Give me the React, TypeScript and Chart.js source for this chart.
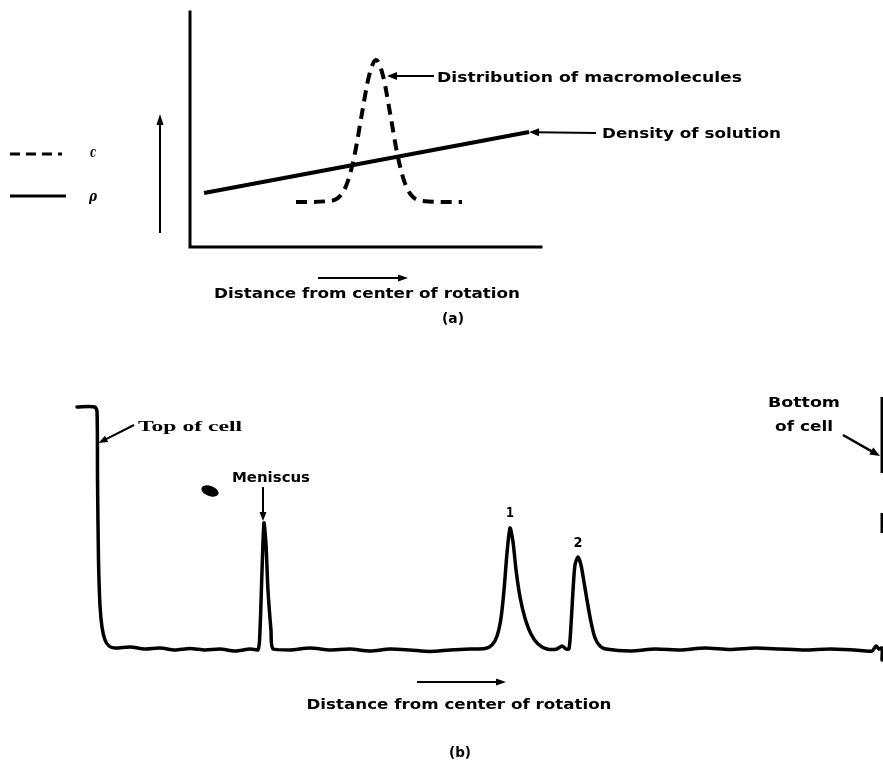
import React, { useEffect, useRef } from "react";
import { Chart, registerables } from "chart.js";

Chart.register(...registerables);

// ---------- Panel (a) data ----------
// density of solution (rho), straight line
const rhoX = [4.0, 96.6];
const rhoY = [23.0, 48.9];
// distribution of macromolecules (c), dashed band
const cX = [30.2, 39.9, 43.0, 45.0, 47.0, 49.0, 51.0, 53.0, 55.0, 57.0, 59.0, 61.0, 63.0, 66.1, 77.5];
const cY = [19.1, 19.6, 22.1, 28.1, 40.0, 57.0, 72.8, 79.6, 72.8, 57.0, 40.0, 28.1, 22.1, 19.6, 19.1];

// ---------- Panel (b) data ----------
const traceX = [0.86, 3.08, 3.33, 3.39, 3.51, 3.69, 3.94, 4.31, 4.80, 5.54, 7.39, 9.24, 11.08, 12.93, 14.78, 16.63, 18.47, 20.32, 22.17, 23.15, 23.40, 23.65, 23.89, 24.14, 24.38, 24.75, 25.0, 27.09, 29.56, 32.02, 34.48, 36.95, 39.41, 41.87, 44.33, 46.80, 49.26, 51.11, 51.97, 52.59, 53.08, 53.45, 53.82, 54.19, 54.56, 54.93, 55.42, 56.03, 56.77, 57.64, 58.74, 59.98, 60.59, 61.08, 61.45, 61.70, 61.95, 62.19, 62.56, 62.93, 63.30, 63.67, 64.16, 64.66, 65.27, 66.01, 68.97, 72.04, 75.12, 78.20, 81.28, 84.36, 87.44, 90.52, 93.60, 96.67, 98.77, 99.26, 99.63, 100, 100];
const traceY = [97.2, 97.2, 95.2, 68, 36, 18, 9.2, 4, 1.6, 0.8, 1.2, 0.4, 0.8, 0, 0.6, 0, 0.4, -0.4, 0.4, 0, 8, 32, 50.8, 42, 24, 8, 0.4, 0, 0.8, 0, 0.4, -0.4, 0.4, 0, -0.6, 0, 0.4, 0.6, 2, 5.6, 12.8, 24, 38.8, 48.8, 43.2, 32, 21.2, 12.8, 6.4, 2.4, 0.4, 0.4, 1.6, 0.4, 0.4, 10, 24, 34, 37.2, 34, 27.2, 20, 11.2, 4.8, 1.6, 0.4, -0.4, 0.4, 0, 0.8, 0.2, 0.8, 0.4, 0, 0.4, 0, -0.4, 1.6, 0.4, 0.8, -4];
// bottom-of-cell wall (broken vertical trace at the right edge)
const wallX = [100, 100, 100, 100, 100];
const wallY: (number | null)[] = [101.2, 70.8, null, 54.8, 46.8];

// index of notable points in the trace
const MENISCUS_IDX = 22;
const PEAK1_IDX = 43;
const PEAK2_IDX = 58;
const TOPCELL_IDX = 3;

const LABEL_FONT = 'bold 14px "DejaVu Sans"';
const SERIF_FONT = 'bold 15px "Liberation Serif"';

function pts(xs: number[], ys: (number | null)[]) {
  return xs.map((x, i) => ({ x, y: ys[i] }));
}

function fitText(
  ctx: CanvasRenderingContext2D,
  s: string,
  x: number,
  y: number,
  w: number,
  font: string,
  align: "left" | "center" | "right" = "left"
) {
  ctx.save();
  ctx.font = font;
  ctx.textBaseline = "middle";
  ctx.textAlign = "left";
  ctx.fillStyle = "#000";
  const m = ctx.measureText(s).width;
  const k = w / m;
  const left = align === "left" ? x : align === "center" ? x - w / 2 : x - w;
  ctx.translate(left, y);
  ctx.scale(k, 1);
  ctx.fillText(s, 0, 0);
  ctx.restore();
}

function arrow(
  ctx: CanvasRenderingContext2D,
  x1: number,
  y1: number,
  x2: number,
  y2: number,
  lw = 2,
  head = 9,
  hw = 3.5
) {
  const a = Math.atan2(y2 - y1, x2 - x1);
  const c = Math.cos(a);
  const s = Math.sin(a);
  ctx.save();
  ctx.strokeStyle = "#000";
  ctx.fillStyle = "#000";
  ctx.lineWidth = lw;
  ctx.beginPath();
  ctx.moveTo(x1, y1);
  ctx.lineTo(x2 - c * head * 0.7, y2 - s * head * 0.7);
  ctx.stroke();
  ctx.beginPath();
  ctx.moveTo(x2, y2);
  ctx.lineTo(x2 - c * head - s * hw, y2 - s * head + c * hw);
  ctx.lineTo(x2 - c * head + s * hw, y2 - s * head - c * hw);
  ctx.closePath();
  ctx.fill();
  ctx.restore();
}

function line(ctx: CanvasRenderingContext2D, x1: number, y1: number, x2: number, y2: number, lw: number, dash: number[] = []) {
  ctx.save();
  ctx.strokeStyle = "#000";
  ctx.lineWidth = lw;
  ctx.setLineDash(dash);
  ctx.beginPath();
  ctx.moveTo(x1, y1);
  ctx.lineTo(x2, y2);
  ctx.stroke();
  ctx.restore();
}

const panelAPlugin = {
  id: "panelA",
  afterDraw(chart: any) {
    const ctx: CanvasRenderingContext2D = chart.ctx;
    const { left, right, top, bottom } = chart.chartArea;
    const xs = chart.scales.x;
    const ys = chart.scales.y;
    // L-shaped axes
    ctx.save();
    ctx.strokeStyle = "#000";
    ctx.lineWidth = 3;
    ctx.lineCap = "square";
    ctx.beginPath();
    ctx.moveTo(left, top);
    ctx.lineTo(left, bottom);
    ctx.lineTo(right, bottom);
    ctx.stroke();
    ctx.restore();

    // legend
    line(ctx, 10, 154, 62, 154, 3, [10, 6]);
    fitText(ctx, "c", 90, 153, 6, 'italic bold 14px "DejaVu Serif"');
    line(ctx, 10, 196, 66, 196, 3);
    fitText(ctx, "ρ", 89, 197, 8, 'italic bold 14px "DejaVu Serif"');

    // vertical direction arrow
    arrow(ctx, 160, 233, 160, 114, 2, 11, 3.5);

    // annotation: distribution
    const px = xs.getPixelForValue(cX[7]);
    const py = ys.getPixelForValue(cY[7]);
    arrow(ctx, 434, py + 16, px + 11, py + 16, 2, 10, 4);
    fitText(ctx, "Distribution of macromolecules", 437, py + 18, 305, LABEL_FONT);

    // annotation: density
    const dx = xs.getPixelForValue(rhoX[1]);
    const dy = ys.getPixelForValue(rhoY[1]);
    arrow(ctx, 596, dy + 1, dx, dy, 2, 10, 4);
    fitText(ctx, "Density of solution", 602, dy + 2, 179, LABEL_FONT);

    // x direction arrow and label
    arrow(ctx, 318, 278, 408, 278, 2, 10, 3.5);
    fitText(ctx, "Distance from center of rotation", 367, 294, 306, LABEL_FONT, "center");
    fitText(ctx, "(a)", 453, 319, 22, LABEL_FONT, "center");
  },
};

const panelBPlugin = {
  id: "panelB",
  afterDraw(chart: any) {
    const ctx: CanvasRenderingContext2D = chart.ctx;
    const xs = chart.scales.x;
    const ys = chart.scales.y;
    const X = (i: number) => xs.getPixelForValue(traceX[i]);
    const Y = (i: number) => ys.getPixelForValue(traceY[i]);

    // Top of cell
    const tx = X(TOPCELL_IDX) + 1;
    fitText(ctx, "Top of cell", 138, 55, 104, SERIF_FONT);
    arrow(ctx, 134, 53, tx, 71, 2, 9, 3.5);

    // smudge
    ctx.save();
    ctx.fillStyle = "#000";
    ctx.beginPath();
    ctx.ellipse(210, 119, 9, 5, 0.35, 0, Math.PI * 2);
    ctx.fill();
    ctx.restore();

    // Meniscus
    const mx = X(MENISCUS_IDX) - 1;
    const my = Y(MENISCUS_IDX);
    fitText(ctx, "Meniscus", 232, 106, 78, LABEL_FONT);
    arrow(ctx, mx, 115, mx, my - 2, 2, 9, 3.5);

    // peak labels
    fitText(ctx, "1", X(PEAK1_IDX), Y(PEAK1_IDX) - 15, 8, LABEL_FONT, "center");
    fitText(ctx, "2", X(PEAK2_IDX), Y(PEAK2_IDX) - 14, 9, LABEL_FONT, "center");

    // Bottom of cell
    fitText(ctx, "Bottom", 804, 31, 72, LABEL_FONT, "center");
    fitText(ctx, "of cell", 804, 55, 58, LABEL_FONT, "center");
    const wx = xs.getPixelForValue(wallX[0]) - 2;
    arrow(ctx, 843, 63, wx, 84, 2.5, 10, 4);

    // x direction arrow and label
    arrow(ctx, 417, 310, 506, 310, 2, 10, 3.5);
    fitText(ctx, "Distance from center of rotation", 459, 333, 305, LABEL_FONT, "center");
    fitText(ctx, "(b)", 460, 381, 22, LABEL_FONT, "center");
  },
};

function baseOptions(padding: any) {
  return {
    animation: false as const,
    responsive: false,
    maintainAspectRatio: false,
    devicePixelRatio: 1,
    layout: { padding },
    plugins: { legend: { display: false }, tooltip: { enabled: false }, title: { display: false } },
    events: [] as any[],
    scales: {
      x: { type: "linear" as const, min: 0, max: 100, display: false },
      y: { type: "linear" as const, min: 0, max: 100, display: false },
    },
  };
}

export default function App() {
  const refA = useRef<HTMLCanvasElement | null>(null);
  const refB = useRef<HTMLCanvasElement | null>(null);

  useEffect(() => {
    const chartA = new Chart(refA.current as HTMLCanvasElement, {
      type: "scatter",
      data: {
        datasets: [
          {
            label: "ρ",
            data: pts(rhoX, rhoY),
            showLine: true,
            borderColor: "#000",
            borderWidth: 4,
            pointRadius: 0,
            clip: false,
          } as any,
          {
            label: "c",
            data: pts(cX, cY),
            showLine: true,
            borderColor: "#000",
            borderWidth: 4,
            borderDash: [11, 7],
            pointRadius: 0,
            cubicInterpolationMode: "monotone",
            clip: false,
          } as any,
        ],
      },
      options: baseOptions({ left: 190, right: 342, top: 12, bottom: 125 }) as any,
      plugins: [panelAPlugin],
    });

    const chartB = new Chart(refB.current as HTMLCanvasElement, {
      type: "scatter",
      data: {
        datasets: [
          {
            label: "trace",
            data: pts(traceX, traceY),
            showLine: true,
            borderColor: "#000",
            borderWidth: 3.5,
            pointRadius: 0,
            tension: 0.25,
            borderCapStyle: "round",
            borderJoinStyle: "round",
            clip: false,
          } as any,
          {
            label: "wall",
            data: pts(wallX, wallY),
            showLine: true,
            spanGaps: false,
            borderColor: "#000",
            borderWidth: 3,
            pointRadius: 0,
            clip: false,
          } as any,
        ],
      },
      options: baseOptions({ left: 70, right: 1, top: 28, bottom: 114 }) as any,
      plugins: [panelBPlugin],
    });

    return () => {
      chartA.destroy();
      chartB.destroy();
    };
  }, []);

  return (
    <div
      style={{
        position: "fixed",
        left: 0,
        top: 0,
        width: 883,
        height: 764,
        background: "#fff",
        overflow: "hidden",
      }}
    >
      <canvas ref={refA} width={883} height={372} style={{ position: "absolute", left: 0, top: 0, width: 883, height: 372 }} />
      <canvas ref={refB} width={883} height={392} style={{ position: "absolute", left: 0, top: 372, width: 883, height: 392 }} />
    </div>
  );
}
